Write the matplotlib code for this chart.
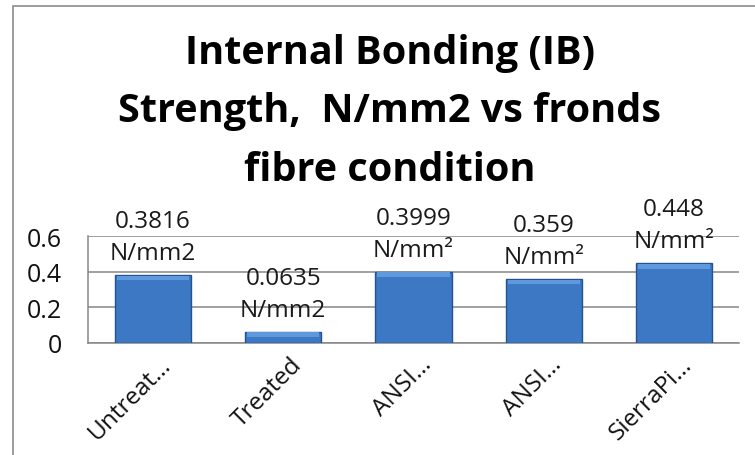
import numpy as np
import matplotlib
matplotlib.use("Agg")
import matplotlib.pyplot as plt
from matplotlib.patches import Rectangle
from matplotlib.transforms import ScaledTranslation

# IB strength per fronds fibre condition
categories = ["Untreat…", "Treated", "ANSI…", "ANSI…", "SierraPi…"]
ib_strength = [0.3816, 0.0635, 0.3999, 0.359, 0.448]
value_labels = ["0.3816\nN/mm2", "0.0635\nN/mm2", "0.3999\nN/mm²", "0.359\nN/mm²", "0.448\nN/mm²"]
yticks = [0, 0.2, 0.4, 0.6]
ytick_labels = ["0", "0.2", "0.4", "0.6"]

plt.rcParams["font.family"] = ["Open Sans", "DejaVu Sans"]
GRID = "#868686"
BAR = "#3C78C3"
BAR_EDGE = "#24548F"
BEVEL = "#5F98DC"
FS = 17.5

fig = plt.figure(figsize=(7.55, 4.56), dpi=100)
fig.patch.set_facecolor("white")

# chart frame (only left and top edges fall inside the image)
fig.patches.append(Rectangle((13 / 755, -0.5), 2.0, 1.5 - 7 / 456,
                             transform=fig.transFigure, fill=False,
                             edgecolor="#8C8C8C", lw=1.2))

ax = fig.add_axes([88 / 755, 1 - 344 / 456, 651 / 755, (344 - 237.3) / 456])
x = np.arange(len(categories))
w = 0.585
ax.bar(x, ib_strength, w, color=BAR, edgecolor=BAR_EDGE, lw=1.0, zorder=3)
# lighter bevel along the top of each bar
ax.bar(x, [0.027] * len(x), w * 0.95, bottom=[v - 0.03 for v in ib_strength],
       color=BEVEL, lw=0, zorder=4)

for xi, v, s in zip(x, ib_strength, value_labels):
    ax.annotate(s, (xi, v), xytext=(0, 16), textcoords="offset pixels",
                ha="center", va="baseline", fontsize=FS, linespacing=1.45,
                color="#1a1a1a", zorder=5, annotation_clip=False)

ax.set_xlim(-0.5, len(x) - 0.5)
ax.set_ylim(0, 0.6)
ax.set_yticks(yticks)
ax.set_yticklabels(ytick_labels, fontsize=FS + 0.5)
ax.yaxis.grid(True, color=GRID, lw=1.1, zorder=0)
ax.set_axisbelow(True)
for side in ["top", "right"]:
    ax.spines[side].set_visible(False)
for side in ["left", "bottom"]:
    ax.spines[side].set_color(GRID)
    ax.spines[side].set_linewidth(1.1)
ax.tick_params(axis="y", length=0, pad=19, labelcolor="#111111")
ax.tick_params(axis="x", length=0, pad=0)

ax.set_xticks(x)
ax.set_xticklabels(categories, rotation=45, rotation_mode="anchor",
                   ha="right", va="baseline", fontsize=FS, color="#111111")
shift = ScaledTranslation(19 / 100, -22 / 100, fig.dpi_scale_trans)
for lbl in ax.get_xticklabels():
    lbl.set_transform(lbl.get_transform() + shift)

title_lines = ["Internal Bonding (IB)", "Strength,  N/mm2 vs fronds", "fibre condition"]
for line, ybase in zip(title_lines, [64, 122, 181]):
    fig.text(390 / 755, 1 - ybase / 456, line, ha="center", va="baseline",
             fontsize=28.5, fontweight="bold", color="black")

fig.savefig("out.png", dpi=100)
